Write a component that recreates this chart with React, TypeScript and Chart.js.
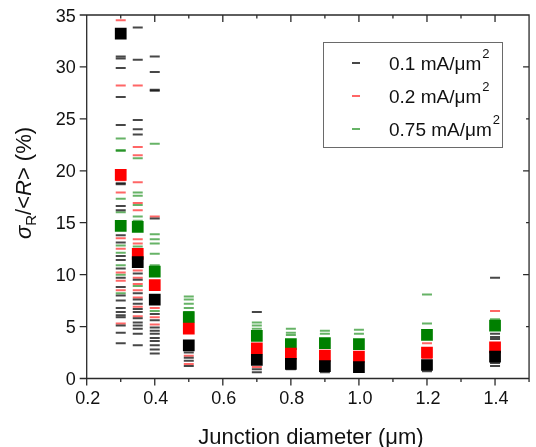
import { useEffect, useRef } from "react";
import { Chart, registerables } from "chart.js";

Chart.register(...registerables);

// Junction diameters (µm) of the measured groups
const diameters = [0.3, 0.35, 0.4, 0.5, 0.7, 0.8, 0.9, 1.0, 1.2, 1.4];

// Large square markers (per group) for each current density
const squareBlack = [33.2, 11.2, 7.6, 3.2, 1.8, 1.4, 1.2, 1.1, 1.3, 2.1];
const squareRed = [19.6, 12.0, 9.0, 4.8, 2.9, 2.4, 2.2, 2.1, 2.5, 3.0];
const squareGreen = [14.7, 14.6, 10.3, 5.9, 4.1, 3.3, 3.4, 3.3, 4.2, 5.1];

// Individual dash values, one list per diameter
const dashBlack = [
  [31.0, 30.8, 29.9, 27.1, 24.4, 18.8, 18.7, 16.6, 16.2, 13.8, 13.1, 11.8, 11.4, 10.6, 9.7, 8.8, 8.0, 7.5, 6.8, 6.4, 6.1, 5.9, 5.1, 4.4, 3.4],
  [33.8, 30.7, 24.9, 24.0, 23.5, 10.1, 9.5, 8.2, 7.6, 7.2, 6.7, 6.4, 5.8, 5.4, 5.1, 4.8, 4.3, 3.2],
  [31.0, 29.5, 27.8, 27.7, 15.4, 6.2, 5.6, 4.9, 4.6, 4.3, 3.9, 3.6, 3.2, 2.8, 2.4],
  [3.6, 2.8, 2.5, 2.0, 1.7, 1.2],
  [6.4, 1.4, 0.9, 0.6],
  [1.1, 0.9],
  [0.9, 0.6],
  [1.0, 0.8],
  [1.0, 0.7],
  [9.7, 4.3, 4.0, 3.8, 1.5, 1.2],
];
const dashRed = [
  [34.5, 28.2, 19.1, 17.9, 13.5, 12.5, 10.2, 9.4, 8.5, 5.3],
  [28.2, 22.3, 21.5, 18.9, 16.9, 16.2, 13.4, 13.0, 10.4, 9.7, 9.1, 8.5, 7.8, 6.9, 6.0],
  [15.6, 6.8, 5.9, 5.2],
  [2.2, 1.4],
  [2.3, 1.1],
  [2.0],
  [0.9],
  [1.7],
  [3.4, 2.0],
  [6.5, 2.5],
];
const dashGreen = [
  [23.1, 22.0, 21.9, 17.3, 16.0, 12.8, 12.1, 10.9, 10.0, 8.2],
  [21.2, 17.9, 17.6, 16.7, 15.6, 15.2, 12.7, 8.9],
  [22.6, 13.9, 13.4, 13.0, 12.0, 10.9, 6.5],
  [7.9, 7.6, 7.2, 6.8, 6.4],
  [5.4, 5.1, 4.8],
  [4.8, 4.4, 4.2],
  [4.6, 4.3],
  [4.7, 4.3],
  [8.1, 5.3],
  [5.7],
];

const xTickValues = [0.2, 0.4, 0.6, 0.8, 1.0, 1.2, 1.4];
const xTickLabels = ["0.2", "0.4", "0.6", "0.8", "1.0", "1.2", "1.4"];
const xMinorValues = [0.3, 0.5, 0.7, 0.9, 1.1, 1.3, 1.5];
const yTickValues = [0, 5, 10, 15, 20, 25, 30, 35];
const yTickLabels = ["0", "5", "10", "15", "20", "25", "30", "35"];
const legendLabels = ["0.1 mA/\u03bcm", "0.2 mA/\u03bcm", "0.75 mA/\u03bcm"];
const xTitle = "Junction diameter (\u03bcm)";

const BLACK = "#000000";
const RED = "#ff0000";
const GREEN = "#008000";
const DASH_BLACK = "rgba(0,0,0,0.72)";
const DASH_RED = "rgba(255,0,0,0.6)";
const DASH_GREEN = "rgba(0,128,0,0.6)";
const FONT = "'Liberation Sans', Arial, sans-serif";

function flatten(lists: number[][]) {
  const pts: { x: number; y: number }[] = [];
  lists.forEach((vals, i) => vals.forEach((v) => pts.push({ x: diameters[i], y: v })));
  return pts;
}
function squares(vals: number[]) {
  return vals.map((v, i) => ({ x: diameters[i], y: v }));
}

const framePlugin = {
  id: "frame",
  afterDraw(chart: any) {
    const ctx = chart.ctx as CanvasRenderingContext2D;
    const xs = chart.scales.x;
    const ys = chart.scales.y;
    const L = xs.getPixelForValue(0.2);
    const R = xs.getPixelForValue(1.5);
    const T = ys.getPixelForValue(35);
    const B = ys.getPixelForValue(0);
    ctx.save();
    ctx.strokeStyle = "#2a2a2a";
    ctx.lineWidth = 1.3;
    ctx.beginPath();
    ctx.moveTo(L, T);
    ctx.lineTo(L, B);
    ctx.lineTo(R, B);
    ctx.lineTo(R, T);
    ctx.lineTo(L, T);
    yTickValues.forEach((v) => {
      const y = ys.getPixelForValue(v);
      ctx.moveTo(L - 7, y);
      ctx.lineTo(L, y);
      const len = v % 10 === 0 ? 6 : 3;
      ctx.moveTo(R - len, y);
      ctx.lineTo(R, y);
    });
    xTickValues.forEach((v) => {
      const x = xs.getPixelForValue(v);
      ctx.moveTo(x, B);
      ctx.lineTo(x, B + 7);
      ctx.moveTo(x, T);
      ctx.lineTo(x, T + 7);
    });
    xMinorValues.forEach((v) => {
      const x = xs.getPixelForValue(v);
      ctx.moveTo(x, B);
      ctx.lineTo(x, B + 3.5);
      ctx.moveTo(x, T);
      ctx.lineTo(x, T + 3.5);
    });
    ctx.stroke();

    // tick labels
    ctx.fillStyle = "#111";
    ctx.font = `18px ${FONT}`;
    ctx.textBaseline = "alphabetic";
    ctx.textAlign = "right";
    yTickValues.forEach((v, i) => {
      ctx.fillText(yTickLabels[i], L - 11, ys.getPixelForValue(v) + 6.5);
    });
    ctx.textAlign = "center";
    xTickValues.forEach((v, i) => {
      ctx.fillText(xTickLabels[i], xs.getPixelForValue(v) + 1, B + 25);
    });

    // x title
    ctx.font = `22px ${FONT}`;
    ctx.fillText(xTitle, (L + xs.getPixelForValue(1.4)) / 2 + 20, 444);

    // y title (rotated)
    ctx.save();
    ctx.translate(31, 183);
    ctx.rotate(-Math.PI / 2);
    const parts: [string, string, number][] = [
      ["\u03c3", `italic 22px ${FONT}`, 0],
      ["R", `15px ${FONT}`, 5],
      ["/<", `22px ${FONT}`, 0],
      ["R", `italic 22px ${FONT}`, 0],
      ["> (%)", `22px ${FONT}`, 0],
    ];
    let total = 0;
    parts.forEach(([t, f]) => {
      ctx.font = f;
      total += ctx.measureText(t).width;
    });
    let px = -total / 2;
    ctx.textAlign = "left";
    parts.forEach(([t, f, dy]) => {
      ctx.font = f;
      ctx.fillText(t, px, dy);
      px += ctx.measureText(t).width;
    });
    ctx.restore();

    // legend
    ctx.strokeStyle = "#6a6a6a";
    ctx.lineWidth = 1;
    ctx.strokeRect(323.5, 42.5, 179, 105);
    const rows = [63, 96, 129];
    const cols = [DASH_BLACK, DASH_RED, DASH_GREEN];
    rows.forEach((ry, i) => {
      ctx.strokeStyle = cols[i];
      ctx.lineWidth = 2;
      ctx.beginPath();
      ctx.moveTo(352, ry);
      ctx.lineTo(360, ry);
      ctx.stroke();
      ctx.fillStyle = "#111";
      ctx.textAlign = "left";
      ctx.font = `19px ${FONT}`;
      ctx.fillText(legendLabels[i], 389, ry + 7);
      const w = ctx.measureText(legendLabels[i]).width;
      ctx.font = `13px ${FONT}`;
      ctx.fillText("2", 389 + w + 1, ry - 5);
    });
    ctx.restore();
  },
};

export default function App() {
  const ref = useRef<HTMLCanvasElement>(null);
  useEffect(() => {
    if (!ref.current) return;
    const dashCommon = {
      showLine: false,
      pointStyle: "line" as const,
      pointRadius: 5,
      pointBorderWidth: 2,
    };
    const sqCommon = {
      showLine: false,
      pointStyle: "rect" as const,
      pointRadius: 8.3,
      pointBorderWidth: 0,
    };
    const chart = new Chart(ref.current, {
      type: "scatter",
      data: {
        datasets: [
          { label: "sq black", data: squares(squareBlack), backgroundColor: BLACK, borderColor: BLACK, order: 0, ...sqCommon },
          { label: "sq red", data: squares(squareRed), backgroundColor: RED, borderColor: RED, order: 1, ...sqCommon },
          { label: "sq green", data: squares(squareGreen), backgroundColor: GREEN, borderColor: GREEN, order: 2, ...sqCommon },
          { label: legendLabels[0], data: flatten(dashBlack), borderColor: DASH_BLACK, backgroundColor: DASH_BLACK, order: 3, ...dashCommon },
          { label: legendLabels[1], data: flatten(dashRed), borderColor: DASH_RED, backgroundColor: DASH_RED, order: 4, ...dashCommon },
          { label: legendLabels[2], data: flatten(dashGreen), borderColor: DASH_GREEN, backgroundColor: DASH_GREEN, order: 5, ...dashCommon },
        ],
      },
      options: {
        responsive: false,
        animation: false,
        events: [],
        layout: { padding: { left: 86.7, right: 0, top: 15, bottom: 68.5 } },
        plugins: { legend: { display: false }, tooltip: { enabled: false }, title: { display: false } },
        scales: {
          x: { type: "linear", min: 0.2, max: 1.496, display: false },
          y: { type: "linear", min: 0, max: 35, display: false },
        },
      },
      plugins: [framePlugin],
    });
    return () => chart.destroy();
  }, []);
  return (
    <div style={{ position: "fixed", left: 0, top: 0, width: 536, height: 447, background: "#fff" }}>
      <canvas ref={ref} width={536} height={447} style={{ display: "block" }} />
    </div>
  );
}
